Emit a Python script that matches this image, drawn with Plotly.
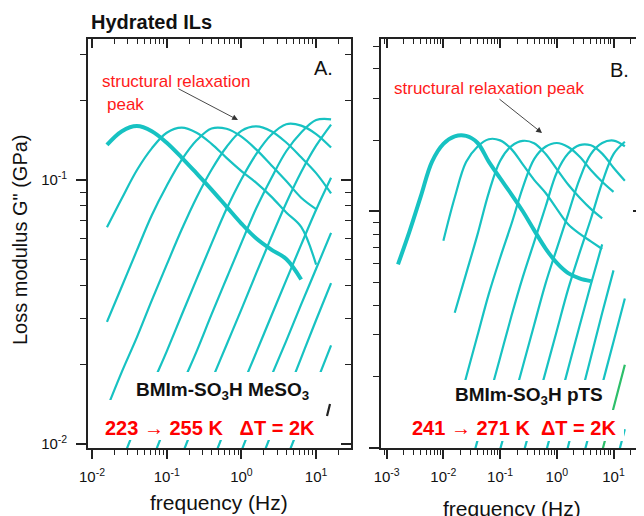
import plotly.graph_objects as go

FONT = "Arial, Liberation Sans, sans-serif"
CYAN = "#17c2c2"
GREEN = "#2dbf6a"
DARK = "#222222"
RED = "#ff1a1a"

# ---------------- Panel A : BMIm-SO3H MeSO3 (223 -> 255 K) ----------------
freq_A = [0.01585, 0.02512, 0.03981, 0.0631, 0.1, 0.1585, 0.2512, 0.3981,
          0.631, 1.0, 1.585, 2.512, 3.981, 6.31, 10.0, 15.85]
N = None
gA_223 = [0.1358, 0.1531, 0.1600, 0.1531, 0.1384, 0.1216, 0.1059, 0.0920,
          0.0793, 0.0684, 0.0600, 0.0545, 0.0502, 0.0420, N, N]
gA_225 = [0.0662, 0.0853, 0.1089, 0.1318, 0.1510, 0.1578, 0.1510, 0.1371,
          0.1213, 0.1081, 0.0975, 0.0865, 0.0753, 0.0664, 0.0478, N]
gA_227 = [0.0290, 0.0396, 0.0541, 0.0735, 0.0951, 0.1191, 0.1413, 0.1567,
          0.1563, 0.1459, 0.1303, 0.1138, 0.0991, 0.0857, 0.0776, N]
gA_229 = [0.01365, 0.0188, 0.02535, 0.0350, 0.0478, 0.0649, 0.0859, 0.1094,
          0.1334, 0.1535, 0.1596, 0.1531, 0.1387, 0.1219, 0.1062, 0.0889]
gA_231 = [0.0061, 0.00861, 0.01197, 0.0166, 0.02244, 0.0308, 0.0421, 0.0574,
          0.0776, 0.1007, 0.1256, 0.1483, 0.1626, 0.1607, 0.1493, 0.1327]
gA_233 = [0.00313, 0.00437, 0.00611, 0.00863, 0.01202, 0.0166, 0.02244, 0.03097,
          0.04236, 0.0578, 0.0783, 0.1016, 0.1285, 0.1514, 0.1687, 0.1698]
gA_235 = [N, N, N, 0.00457, 0.00638, 0.00902, 0.01259, 0.01738,
          0.02371, 0.03236, 0.04446, 0.06067, 0.08185, 0.1072, 0.1349, 0.1622]
gA_237 = [N, N, N, N, N, N, 0.00596, 0.00841,
          0.01175, 0.0163, 0.02228, 0.03055, 0.04178, 0.05689, 0.0771, 0.1019]
gA_239 = [N, N, N, N, N, N, N, N,
          0.00665, 0.00942, 0.01309, 0.01807, 0.0246, 0.0338, 0.0461, 0.0631]
gA_241 = [N, N, N, N, N, N, N, N,
          N, 0.00562, 0.00783, 0.01092, 0.0152, 0.0212, 0.0295, 0.0407]
gA_243 = [N, N, N, N, N, N, N, N,
          N, N, N, 0.00628, 0.00875, 0.01219, 0.01698, 0.02366]
freq_A_last = [14.0, 15.35]
gA_last = [0.01277, 0.01419]

# ---------------- Panel B : BMIm-SO3H pTS (241 -> 271 K) ----------------
freq_B = [0.001585, 0.002512, 0.003981, 0.00631, 0.01, 0.01585, 0.02512,
          0.03981, 0.0631, 0.1, 0.1585, 0.2512, 0.3981, 0.631, 1.0, 1.585,
          2.512, 3.981, 6.31, 10.0, 15.85]
gB_241 = [0.0596, 0.0818, 0.1153, 0.1622, 0.1928, 0.2075, 0.2084, 0.1950,
          0.1622, 0.1380, 0.1180, 0.1000, 0.0832, 0.0697, 0.0604, 0.0547,
          0.0520, 0.0506, N, N, N]
gB_243 = [N, N, N, N, 0.0750, 0.1143, 0.1614, 0.1875, 0.2018, 0.1995, 0.1832,
          0.1578, 0.1358, 0.1197, 0.1023, 0.0881, 0.0804, 0.0746, 0.0692, N, N]
gB_245 = [N, N, N, N, N, 0.0372, 0.0543, 0.0794, 0.1197, 0.1633, 0.1888,
          0.1986, 0.1941, 0.1750, 0.1507, 0.1297, 0.1143, 0.1023, 0.0933, N, N]
gB_247 = [N, N, N, N, N, 0.0132, 0.0198, 0.0297, 0.0446, 0.0634, 0.0883,
          0.1259, 0.1663, 0.1875, 0.1945, 0.1871, 0.1706, 0.1496, 0.1334, 0.1208, N]
gB_249 = [N, N, N, N, N, N, 0.00711, 0.01067, 0.0160, 0.0240, 0.0360,
          0.0526, 0.0740, 0.1042, 0.1459, 0.1754, 0.1905, 0.1901, 0.1754, 0.1528, 0.1346]
gB_251 = [N, N, N, N, N, N, N, N, 0.00653, 0.00980, 0.01469,
          0.02203, 0.0330, 0.0493, 0.0695, 0.0973, 0.1365, 0.1746, 0.1945, 0.1991, 0.1884]
gB_253 = [N, N, N, N, N, N, N, N, N, N, 0.00617,
          0.00925, 0.01387, 0.0208, 0.0312, 0.0468, 0.0665, 0.0927, 0.1321, 0.1746, 0.1968]
gB_255 = [N, N, N, N, N, N, N, N, N, N, N,
          N, 0.00621, 0.00940, 0.01422, 0.02153, 0.0326, 0.0490, 0.0724, N, N]
gB_257 = [N, N, N, N, N, N, N, N, N, N, N,
          N, N, N, 0.00656, 0.01012, 0.01560, 0.02404, 0.0371, 0.0562, N]
gB_259 = [N, N, N, N, N, N, N, N, N, N, N,
          N, N, N, N, N, 0.00798, 0.01213, 0.01845, 0.02805, 0.0427]
gB_261 = [N, N, N, N, N, N, N, N, N, N, N,
          N, N, N, N, N, N, N, 0.00966, 0.01469, 0.0224]
gB_263 = [N, N, N, N, N, N, N, N, N, N, N,
          N, N, N, N, N, N, N, N, 0.00785, 0.01194]

# ---------------- ticks ----------------
xA_tickvals = [0.01, 0.1, 1, 10]
xA_ticktext = ["10<sup>-2</sup>", "10<sup>-1</sup>", "10<sup>0</sup>", "10<sup>1</sup>"]
xB_tickvals = [0.001, 0.01, 0.1, 1, 10]
xB_ticktext = ["10<sup>-3</sup>", "10<sup>-2</sup>", "10<sup>-1</sup>", "10<sup>0</sup>", "10<sup>1</sup>"]
y_tickvals = [0.01, 0.1]
y_ticktext = ["10<sup>-2</sup>", "10<sup>-1</sup>"]
xA_minor = [0.02, 0.03, 0.04, 0.05, 0.06, 0.07, 0.08, 0.09,
            0.2, 0.3, 0.4, 0.5, 0.6, 0.7, 0.8, 0.9,
            2, 3, 4, 5, 6, 7, 8, 9, 20]
xB_minor = [0.0009, 0.002, 0.003, 0.004, 0.005, 0.006, 0.007, 0.008, 0.009,
            0.02, 0.03, 0.04, 0.05, 0.06, 0.07, 0.08, 0.09,
            0.2, 0.3, 0.4, 0.5, 0.6, 0.7, 0.8, 0.9,
            2, 3, 4, 5, 6, 7, 8, 9, 20, 30]
yA_minor = [0.02, 0.03, 0.04, 0.05, 0.06, 0.07, 0.08, 0.09, 0.2, 0.3]
yB_minor = [0.02, 0.03, 0.04, 0.05, 0.06, 0.07, 0.08, 0.09, 0.2, 0.3, 0.4, 0.5]

W, H = 644, 516
OFF = 8  # page margin of the browser body
def px(x):
    return (x - OFF) / W
def py(y):
    return (H - (y - OFF)) / H

fig = go.Figure()

curves_A = [("223 K", gA_223, 4.0, CYAN), ("225 K", gA_225, 2.2, CYAN),
            ("227 K", gA_227, 2.2, CYAN), ("229 K", gA_229, 2.2, CYAN),
            ("231 K", gA_231, 2.2, CYAN), ("233 K", gA_233, 2.2, CYAN),
            ("235 K", gA_235, 2.2, CYAN), ("237 K", gA_237, 2.2, CYAN),
            ("239 K", gA_239, 2.2, CYAN), ("241 K", gA_241, 2.2, CYAN),
            ("243 K", gA_243, 2.2, CYAN)]
for name, g, w, c in curves_A:
    fig.add_trace(go.Scatter(x=freq_A, y=g, mode="lines", name=name,
                             line=dict(color=c, width=w, shape="spline", smoothing=1.0),
                             xaxis="x", yaxis="y", showlegend=False, hoverinfo="skip"))
fig.add_trace(go.Scatter(x=freq_A_last, y=gA_last, mode="lines", name="255 K",
                         line=dict(color=DARK, width=2.2), xaxis="x", yaxis="y",
                         showlegend=False, hoverinfo="skip"))

curves_B = [("241 K", gB_241, 4.0, CYAN), ("243 K", gB_243, 2.2, CYAN),
            ("245 K", gB_245, 2.2, CYAN), ("247 K", gB_247, 2.2, CYAN),
            ("249 K", gB_249, 2.2, CYAN), ("251 K", gB_251, 2.2, CYAN),
            ("253 K", gB_253, 2.2, CYAN), ("255 K", gB_255, 2.2, CYAN),
            ("257 K", gB_257, 2.2, CYAN), ("259 K", gB_259, 2.2, CYAN),
            ("261 K", gB_261, 2.2, GREEN), ("263 K", gB_263, 2.2, CYAN)]
for name, g, w, c in curves_B:
    fig.add_trace(go.Scatter(x=freq_B, y=g, mode="lines", name=name,
                             line=dict(color=c, width=w, shape="spline", smoothing=1.0),
                             xaxis="x2", yaxis="y2", showlegend=False, hoverinfo="skip"))

# dummy traces to activate mirrored (top / right) axes
for xa, ya, xv, yv in [("x3", "y", 1, 0.1), ("x", "y3", 1, 0.1),
                       ("x4", "y2", 1, 0.1), ("x2", "y4", 1, 0.1)]:
    fig.add_trace(go.Scatter(x=[xv], y=[yv], mode="markers", xaxis=xa, yaxis=ya,
                             marker=dict(opacity=0), showlegend=False, hoverinfo="skip"))

domA = [px(88), px(351)]
domB = [px(381), px(643)]
domY = [py(448), py(39)]
rngXA = [-2.054, 1.467]
rngXB = [-3.10, 1.52]
rngYA = [-2.015, -0.466]
rngYB = [-2.002, -0.271]

def ax(rng, dom, anchor, side, ticks, tv, tt, minor_vals, mlen, Mlen, labels,
       overlaying=None, standoff=0):
    d = dict(type="log", range=rng, anchor=anchor, side=side, automargin=False,
             showline=True, linecolor=DARK, linewidth=1.6,
             ticks=ticks, ticklen=Mlen, tickwidth=1.6, tickcolor=DARK,
             tickmode="array", tickvals=tv, ticktext=tt,
             showticklabels=labels, tickfont=dict(family=FONT, size=15, color="#111"),
             minor=dict(tickmode="array", tickvals=minor_vals, ticks=ticks,
                        ticklen=mlen, tickwidth=1.3, tickcolor=DARK, showgrid=False),
             showgrid=False, zeroline=False, fixedrange=True)
    if overlaying:
        d["overlaying"] = overlaying
    else:
        d["domain"] = dom
    if labels and standoff:
        d["ticklabelstandoff"] = standoff
    return d

fig.update_layout(
    width=W, height=H, margin=dict(l=0, r=0, t=0, b=0, autoexpand=False),
    paper_bgcolor="white", plot_bgcolor="white", showlegend=False,
    font=dict(family=FONT, color="#111"),
    xaxis=ax(rngXA, domA, "y", "bottom", "outside", xA_tickvals, xA_ticktext, xA_minor, 5, 9, True, standoff=5),
    yaxis=ax(rngYA, domY, "x", "left", "outside", y_tickvals, y_ticktext, yA_minor, 6, 10, True, standoff=6),
    xaxis3=ax(rngXA, domA, "y", "top", "inside", xA_tickvals, xA_ticktext, xA_minor, 5, 9, False, overlaying="x"),
    yaxis3=ax(rngYA, domY, "x", "right", "inside", y_tickvals, y_ticktext, yA_minor, 6, 10, False, overlaying="y"),
    xaxis2=ax(rngXB, domB, "y2", "bottom", "outside", xB_tickvals, xB_ticktext, xB_minor, 5, 9, True, standoff=5),
    yaxis2=ax(rngYB, domY, "x2", "left", "outside", y_tickvals, y_ticktext, yB_minor, 6, 10, False),
    xaxis4=ax(rngXB, domB, "y2", "top", "inside", xB_tickvals, xB_ticktext, xB_minor, 5, 9, False, overlaying="x2"),
    yaxis4=ax(rngYB, domY, "x2", "right", "inside", y_tickvals, y_ticktext, yB_minor, 6, 10, False, overlaying="y2"),
)

# white masks behind the sample labels
for x0, x1, y0, y1 in [(124, 323, 372, 401), (104, 325, 400, 440),
                       (446, 612, 380, 411), (404, 624, 410, 441)]:
    fig.add_shape(type="rect", xref="paper", yref="paper",
                  x0=px(x0), x1=px(x1), y0=py(y1), y1=py(y0),
                  fillcolor="white", line=dict(width=0), layer="above")

def ann(text, x, y, size, color="#111", bold=False, angle=0):
    t = f"<b>{text}</b>" if bold else text
    fig.add_annotation(text=t, x=px(x), y=py(y), xref="paper", yref="paper",
                       xanchor="center", yanchor="middle", showarrow=False,
                       textangle=angle, font=dict(family=FONT, size=size, color=color))

ann("Hydrated ILs", 151, 22, 20, bold=True)
ann("A.", 323, 68, 20)
ann("B.", 619, 70, 20)
ann("structural relaxation", 176, 81, 17, color=RED)
ann("peak", 125, 104, 17, color=RED)
ann("structural relaxation peak", 489, 88, 17, color=RED)
ann("BMIm-SO<sub>3</sub>H MeSO<sub>3</sub>", 222, 391, 19, bold=True)
ann("223 \u2192 255 K\u00a0\u00a0\u00a0\u0394T = 2K", 210, 428, 20, color="#ff0000", bold=True)
ann("BMIm-SO<sub>3</sub>H pTS", 529, 396, 19, bold=True)
ann("241 \u2192 271 K\u00a0\u00a0\u0394T = 2K", 514, 428, 20, color="#ff0000", bold=True)
ann("Loss modulus G\" (GPa)", 20, 240, 20, angle=-90)
ann("frequency (Hz)", 219, 502, 21)
ann("frequency (Hz)", 512, 508, 21)

# arrows
for hx, hy, tx, ty in [(238, 120, 177, 88), (542, 133, 498, 98)]:
    fig.add_annotation(x=px(hx), y=py(hy), xref="paper", yref="paper",
                       ax=tx - hx, ay=ty - hy, axref="pixel", ayref="pixel",
                       showarrow=True, arrowhead=2, arrowsize=1.3, arrowwidth=0.9,
                       arrowcolor="#333", text="")

fig.write_html("out.html")
